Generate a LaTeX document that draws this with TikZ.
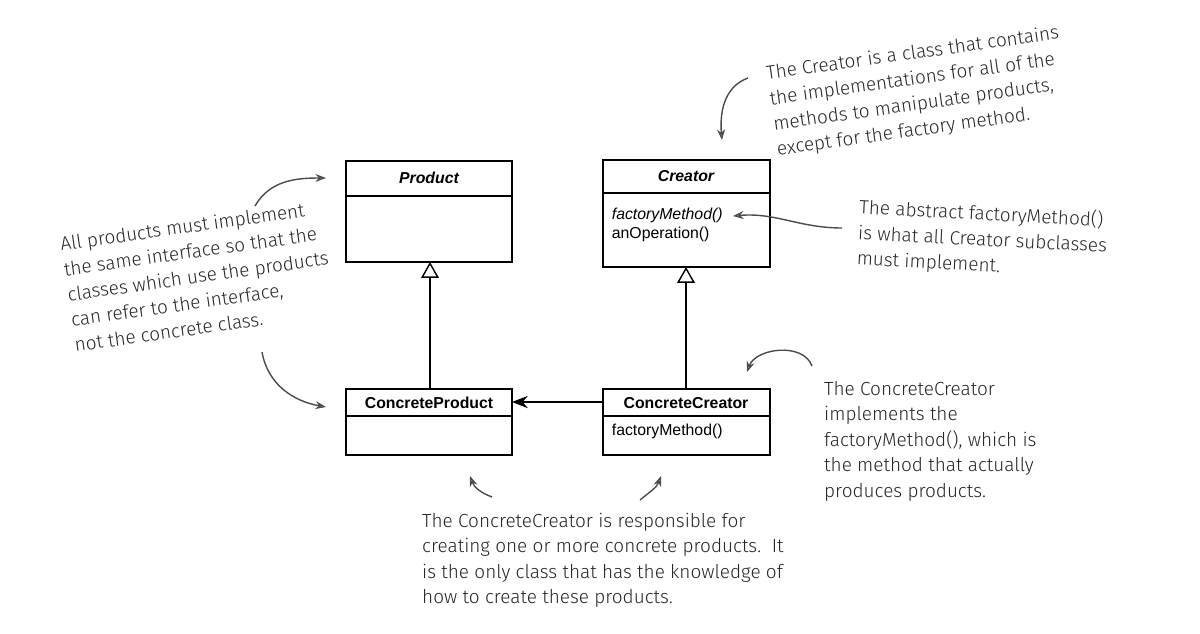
\documentclass[tikz,border=0pt]{standalone}
\usepackage{fontspec}
\setmainfont{Liberation Sans}
\newfontfamily\handfont{Fira Sans Light}
\usetikzlibrary{arrows.meta}
\tikzset{
  note/.style={font=\handfont\fontsize{10.8}{14.5}\selectfont,align=left,text=black!85},
  remark/.style={->,>={Stealth[length=6pt,open]},thick,black!70},
  inherit/.style={-{Triangle[open,length=9pt,width=10pt]},thick},
}
\begin{document}
\begin{tikzpicture}[x=0.02cm,y=-0.02cm]
  \useasboundingbox (0,0) rectangle (1200,634);
  % classes
  \draw[thick] (346,161) rectangle (512,262);
  \draw[thick] (346,196) -- (512,196);
  \node[font=\bfseries\itshape\small] (product) at (429,178) {Product};
  \draw[thick] (603,160) rectangle (770,267);
  \draw[thick] (603,193) -- (770,193);
  \node[font=\bfseries\itshape\small] (creator) at (686,176) {Creator};
  \node[anchor=west,font=\small,align=left,inner sep=2pt] (ops) at (608,225) {\textit{factoryMethod()}\\anOperation()};
  \draw[thick] (346,389) rectangle (512,455);
  \draw[thick] (346,416) -- (512,416);
  \node[font=\bfseries\small] (cproduct) at (429,403) {ConcreteProduct};
  \draw[thick] (603,389) rectangle (770,455);
  \draw[thick] (603,416) -- (770,416);
  \node[font=\bfseries\small] (ccreator) at (686,403) {ConcreteCreator};
  \node[anchor=west,font=\small,inner sep=2pt] (fm) at (608,431) {factoryMethod()};
  \coordinate (pbot) at (430,262);
  \coordinate (ptop) at (430,389);
  \coordinate (cbot) at (686,267);
  \coordinate (ctop) at (686,389);
  \coordinate (ccl) at (603,402);
  \coordinate (cpr) at (512,402);
  % connectors
  \draw[inherit] (ptop) -- (pbot);
  \draw[inherit] (ctop) -- (cbot);
  \draw[-{Stealth[length=9pt,width=7pt]},thick] (ccl) -- (cpr);
  % notes
  \node[note,rotate=8] (n1) at (918,92) {The Creator is a class that contains\\the implementations for all of the\\methods to manipulate products,\\except for the factory method.};
  \node[note,rotate=-3,anchor=west] (n2) at (852,233) {The abstract factoryMethod()\\is what all Creator subclasses\\must implement.};
  \node[note,rotate=8] (n3) at (198,276) {All products must implement\\the same interface so that the\\classes which use the products\\can refer to the interface,\\not the concrete class.};
  \node[note,anchor=north west] (n4) at (818,375) {The ConcreteCreator\\implements the\\factoryMethod(), which is\\the method that actually\\produces products.};
  \node[note,anchor=north west] (n5) at (416,507) {The ConcreteCreator is responsible for\\creating one or more concrete products.~~It\\is the only class that has the knowledge of\\how to create these products.};
  % remark arrows
  \draw[remark] (748,78) to[out=200,in=95] (722,140);
  \draw[remark] (842,228) to[out=180,in=5] (733,216);
  \draw[remark] (255,206) to[out=60,in=180] (326,178);
  \draw[remark] (262,352) to[out=-80,in=170] (326,407);
  \draw[remark] (812,366) to[out=110,in=70] (747,372);
  \draw[remark] (492,497) to[out=160,in=-70] (470,476);
  \draw[remark] (640,500) to[out=40,in=-110] (661,476);
\end{tikzpicture}
\end{document}
